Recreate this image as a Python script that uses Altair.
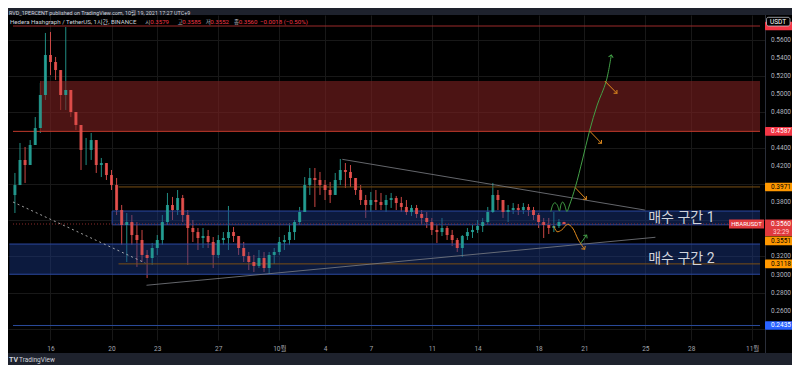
import math
import altair as alt
import pandas as pd

# ---------------- values ----------------
candle_start_day = 13.667          # centre of first 8-hour candle (day of September)
candle_step_days = 1 / 3
first_open = 0.3881
highs = [0.4126, 0.4458, 0.4414, 0.4491, 0.4746, 0.5123, 0.5678, 0.5689, 0.5412, 0.5190,
         0.5744, 0.5012, 0.4791, 0.4635, 0.4514, 0.4569, 0.4347, 0.4292, 0.4236, 0.4159,
         0.4070, 0.3771, 0.3682, 0.3660, 0.3582, 0.3494, 0.3272, 0.3350, 0.3438, 0.3660,
         0.3904, 0.3860, 0.3937, 0.3882, 0.3715, 0.3604, 0.3516, 0.3516, 0.3494, 0.3416,
         0.3438, 0.3471, 0.3760, 0.3527, 0.3427, 0.3361, 0.3250, 0.3217, 0.3272, 0.3250,
         0.3250, 0.3294, 0.3416, 0.3438, 0.3571, 0.3604, 0.3749, 0.4081, 0.4181, 0.4181,
         0.4137, 0.4048, 0.4026, 0.4126, 0.4281, 0.4236, 0.4214, 0.4070, 0.3992, 0.3882,
         0.3915, 0.3937, 0.3904, 0.3882, 0.3904, 0.3871, 0.3860, 0.3826, 0.3771, 0.3771,
         0.3715, 0.3693, 0.3627, 0.3549, 0.3627, 0.3538, 0.3494, 0.3405, 0.3438, 0.3516,
         0.3549, 0.3604, 0.3627, 0.3749, 0.4015, 0.3937, 0.3826, 0.3771, 0.3793, 0.3782,
         0.3793, 0.3782, 0.3749, 0.3682, 0.3627, 0.3627, 0.3693, 0.3616, 0.3585]
lows = [0.3682, 0.3992, 0.4015, 0.4214, 0.4436, 0.4569, 0.4935, 0.5212, 0.5157, 0.4824,
        0.4824, 0.4746, 0.4602, 0.4159, 0.4214, 0.4270, 0.4126, 0.4081, 0.4048, 0.3937,
        0.3660, 0.3327, 0.3139, 0.3327, 0.3084, 0.3139, 0.2961, 0.3106, 0.3217, 0.3327,
        0.3549, 0.3604, 0.3660, 0.3582, 0.3106, 0.3361, 0.3272, 0.3294, 0.3294, 0.3072,
        0.3183, 0.3327, 0.3272, 0.3361, 0.3217, 0.3139, 0.3050, 0.3028, 0.3072, 0.3028,
        0.3006, 0.3117, 0.3217, 0.3272, 0.3327, 0.3383, 0.3549, 0.3693, 0.3882, 0.3749,
        0.3882, 0.3826, 0.3793, 0.3882, 0.3992, 0.3959, 0.3970, 0.3882, 0.3771, 0.3627,
        0.3693, 0.3715, 0.3715, 0.3693, 0.3738, 0.3715, 0.3693, 0.3660, 0.3649, 0.3627,
        0.3549, 0.3516, 0.3438, 0.3350, 0.3427, 0.3383, 0.3316, 0.3250, 0.3194, 0.3383,
        0.3405, 0.3460, 0.3471, 0.3560, 0.3682, 0.3715, 0.3627, 0.3582, 0.3671, 0.3660,
        0.3671, 0.3649, 0.3604, 0.3516, 0.3405, 0.3449, 0.3471, 0.3516, 0.3552]
closes = [0.3992, 0.4270, 0.4214, 0.4436, 0.4624, 0.4990, 0.5434, 0.5356, 0.5267, 0.4990,
          0.5046, 0.4802, 0.4658, 0.4381, 0.4381, 0.4491, 0.4214, 0.4236, 0.4103, 0.3992,
          0.3715, 0.3549, 0.3582, 0.3438, 0.3383, 0.3217, 0.3183, 0.3294, 0.3383, 0.3582,
          0.3771, 0.3715, 0.3848, 0.3660, 0.3516, 0.3471, 0.3405, 0.3427, 0.3361, 0.3217,
          0.3383, 0.3405, 0.3471, 0.3427, 0.3294, 0.3205, 0.3139, 0.3095, 0.3183, 0.3072,
          0.3217, 0.3250, 0.3361, 0.3383, 0.3471, 0.3582, 0.3693, 0.3992, 0.4070, 0.4048,
          0.3992, 0.3937, 0.3882, 0.4048, 0.4159, 0.4137, 0.4070, 0.3937, 0.3826, 0.3771,
          0.3826, 0.3804, 0.3771, 0.3826, 0.3848, 0.3793, 0.3749, 0.3693, 0.3738, 0.3671,
          0.3627, 0.3582, 0.3494, 0.3471, 0.3516, 0.3438, 0.3383, 0.3294, 0.3427, 0.3471,
          0.3494, 0.3538, 0.3582, 0.3693, 0.3882, 0.3826, 0.3693, 0.3715, 0.3738, 0.3715,
          0.3749, 0.3715, 0.3660, 0.3582, 0.3549, 0.3516, 0.3538, 0.3582, 0.3560]

day_ticks = [16, 20, 23, 27, 31, 34, 37, 41, 44, 48, 51, 55, 58, 62]
day_labels = ["16", "20", "23", "27", "10월", "4", "7", "11", "14", "18", "21", "25", "28", "11월"]
price_ticks = [0.24, 0.26, 0.28, 0.30, 0.32, 0.34, 0.36, 0.38, 0.40, 0.42, 0.44, 0.46,
               0.48, 0.50, 0.52, 0.54, 0.56]

# zones: supply (red), buy zone 1, buy zone 2
zone_start = [15.35, 20.04, 13.3]
zone_top = [0.5145, 0.3704, 0.3338]
zone_bottom = [0.4587, 0.3551, 0.3003]
zone_names = ["", "매수 구간 1", "매수 구간 2"]

level_prices = [0.5755, 0.4587, 0.3971, 0.3118, 0.2435]
level_start = [13.542, 13.542, 20.46, 20.46, 13.542]
current_price = 0.3560

trend_t1 = [35.131, 22.295, 13.542]
trend_p1 = [0.4277, 0.2881, 0.3804]
trend_t2 = [54.966, 55.659, 22.211]
trend_p2 = [0.3715, 0.3413, 0.3128]

green_t = [48.801, 48.931, 49.060, 49.222, 49.364, 49.480, 49.577, 49.707, 49.856,
           50.030, 50.418, 50.871, 51.344, 51.842, 52.424, 52.767]
green_p = [0.3697, 0.3771, 0.3796, 0.3771, 0.3704, 0.3782, 0.3804, 0.3771, 0.3699,
           0.3771, 0.3974, 0.4270, 0.4595, 0.4879, 0.5138, 0.5434]
orange_t = [48.995, 49.209, 49.513, 49.901, 50.224, 50.612, 51.020]
orange_p = [0.3538, 0.3475, 0.3494, 0.3557, 0.3516, 0.3383, 0.3280]

short_t1 = [52.340, 51.344, 50.399, 50.761]
short_p1 = [0.5145, 0.4591, 0.3963, 0.3346]
short_t2 = [53.136, 52.120, 51.130, 51.150]
short_p2 = [0.5009, 0.4455, 0.3834, 0.3438]
short_kind = ["orange", "orange", "orange", "green"]

box_prices = [0.5755, 0.4587, 0.3971, 0.3551, 0.3118, 0.2435]
box_shift_px = [0, 0, 0, 16, 0, 0]
box_kind = ["red", "red", "orange", "orange", "orange", "blue"]

# ---------------- layout / style ----------------
W, H = 757, 325
T_MIN, T_MAX = 13.542, 62.515
P_MIN, P_MAX = 0.22742, 0.58771
KX = W / (T_MAX - T_MIN)
KY = H / (P_MAX - P_MIN)
UP, DOWN = "#26a69a", "#ef5350"
RED, ORANGE, BLUE, GREEN = "#f23645", "#ff9800", "#2962ff", "#43a047"
ARROW_OR = "#e08a1e"
FONT = "Roboto, Noto Sans CJK KR, sans-serif"
TXT = "#d1d4dc"
FRAME = "#1e222d"

xs = alt.Scale(domain=[T_MIN, T_MAX], nice=False, zero=False)
ys = alt.Scale(domain=[P_MIN, P_MAX], nice=False, zero=False)


def X(f):
    return alt.X(f, type="quantitative", scale=xs)


def Y(f):
    return alt.Y(f, type="quantitative", scale=ys)


n = len(closes)
opens = [first_open] + closes[:-1]
cdf = pd.DataFrame({
    "t": [candle_start_day + i * candle_step_days for i in range(n)],
    "open": opens, "close": closes,
})
cdf["high"] = [max(h, o, c) for h, o, c in zip(highs, opens, closes)]
cdf["low"] = [min(l, o, c) for l, o, c in zip(lows, opens, closes)]
cdf["dir"] = ["up" if c >= o else "down" for o, c in zip(opens, closes)]

# x labels from the label list
x_expr = " : ".join(f"datum.value == {d} ? '{l}'" for d, l in zip(day_ticks, day_labels)) + " : ''"

x_axis = alt.Axis(values=day_ticks, labelExpr=x_expr, grid=True, gridColor="#181818",
                  ticks=False, domain=False, labelColor="#a3a6af", labelFont=FONT,
                  labelFontSize=6.5, labelPadding=5, title=None, labelOverlap=False)
y_axis = alt.Axis(orient="right", values=price_ticks, grid=True, gridColor="#181818",
                  ticks=False, domain=False, labels=False, title=None)
col = alt.Color("dir:N", scale=alt.Scale(domain=["up", "down"], range=[UP, DOWN]), legend=None)

wick = alt.Chart(cdf).mark_rule(strokeWidth=1, opacity=0.85).encode(
    x=alt.X("t:Q", scale=xs, axis=x_axis),
    y=alt.Y("low:Q", scale=ys, axis=y_axis),
    y2="high:Q", color=col)
body = alt.Chart(cdf).mark_bar(size=3, opacity=0.85).encode(
    x=X("t"), y=Y("open"), y2="close", color=col)

# price labels on the right scale (those hidden behind coloured tags are left out)
box_ctr = [p - s / KY for p, s in zip(box_prices, box_shift_px)] + [current_price]
shown = [v for v in price_ticks if not any(abs(v - b) * KY < 5.5 for b in box_ctr)]
pl_df = pd.DataFrame({"p": shown, "txt": [f"{v:.4f}" for v in shown]})
price_labels = alt.Chart(pl_df).mark_text(font=FONT, fontSize=6.5, color="#b2b5be", align="left",
                                          baseline="middle").encode(
    x=alt.value(763), y=Y("p"), text="txt:N")

zdf = pd.DataFrame({"t1": zone_start, "t2": [T_MAX] * 3, "top": zone_top, "bot": zone_bottom,
                    "name": zone_names})
red_zone = alt.Chart(zdf.iloc[[0]]).mark_rect(fill="#7a2020", fillOpacity=0.62).encode(
    x=X("t1"), x2="t2", y=Y("bot"), y2="top")
blue_zone = alt.Chart(zdf.iloc[[1, 2]]).mark_rect(fill="#1a3a8a", fillOpacity=0.45).encode(
    x=X("t1"), x2="t2", y=Y("bot"), y2="top")
edf = pd.DataFrame({
    "t1": [zone_start[1], zone_start[1], zone_start[2], zone_start[2]],
    "t2": [T_MAX] * 4,
    "p": [zone_top[1], zone_bottom[1], zone_top[2], zone_bottom[2]],
})
blue_edges = alt.Chart(edf).mark_rule(color="#2b48a0", strokeWidth=1).encode(
    x=X("t1"), x2="t2", y=Y("p"))
ldf_edges = pd.DataFrame({"t": [zone_start[0], zone_start[1]], "p1": [zone_bottom[0], zone_bottom[1]],
                          "p2": [zone_top[0], zone_top[1]], "c": ["#6b1f1c", "#2b48a0"]})
left_edges = alt.Chart(ldf_edges).mark_rule(strokeWidth=1).encode(
    x=X("t"), y=Y("p1"), y2="p2", color=alt.Color("c:N", scale=None))
zdf["mid"] = [(a + b) / 2 for a, b in zip(zone_top, zone_bottom)]
zdf["tx"] = 57.36
zone_text = alt.Chart(zdf.iloc[[1, 2]]).mark_text(font=FONT, fontSize=14, color=TXT,
                                                  baseline="middle").encode(
    x=X("tx"), y=Y("mid"), text="name:N")

lvl_colors = ["#9c2a2a", "#c0392b", "#7a4f14", "#7a4f14", "#2a4a9a"]
ldf = pd.DataFrame({"t1": level_start, "t2": [T_MAX] * 5, "p": level_prices, "c": lvl_colors})
levels = alt.Chart(ldf).mark_rule(strokeWidth=1).encode(
    x=X("t1"), x2="t2", y=Y("p"), color=alt.Color("c:N", scale=None))
cur_line = alt.Chart(pd.DataFrame({"t1": [T_MIN], "t2": [T_MAX], "p": [current_price]})).mark_rule(
    strokeWidth=1, color="#8a2a2a", strokeDash=[1, 2]).encode(x=X("t1"), x2="t2", y=Y("p"))

tdf = pd.DataFrame({"t1": trend_t1, "p1": trend_p1, "t2": trend_t2, "p2": trend_p2})
trends = alt.Chart(tdf.iloc[[0, 1]]).mark_rule(strokeWidth=1, color="#7d7f86", opacity=0.8).encode(
    x=X("t1"), y=Y("p1"), x2="t2", y2="p2")
dashed = alt.Chart(tdf.iloc[[2]]).mark_rule(strokeWidth=1, color="#c8c8c8", strokeDash=[2, 3],
                                            opacity=0.8).encode(
    x=X("t1"), y=Y("p1"), x2="t2", y2="p2")

gdf = pd.DataFrame({"t": green_t, "p": green_p, "o": range(len(green_t))})
green_path = alt.Chart(gdf).mark_line(color=GREEN, strokeWidth=1, interpolate="catmull-rom").encode(
    x=X("t"), y=Y("p"), order="o:Q")
odf = pd.DataFrame({"t": orange_t, "p": orange_p, "o": range(len(orange_t))})
orange_path = alt.Chart(odf).mark_line(color=ARROW_OR, strokeWidth=1, interpolate="catmull-rom").encode(
    x=X("t"), y=Y("p"), order="o:Q")

sdf = pd.DataFrame({"t1": short_t1, "p1": short_p1, "t2": short_t2, "p2": short_p2,
                    "c": [ARROW_OR if k == "orange" else GREEN for k in short_kind]})
shorts = alt.Chart(sdf).mark_rule(strokeWidth=1).encode(
    x=X("t1"), y=Y("p1"), x2="t2", y2="p2", color=alt.Color("c:N", scale=None))


def ang(t1, p1, t2, p2):
    a = math.degrees(math.atan2((t2 - t1) * KX, (p2 - p1) * KY))
    return a % 360


heads = [(green_t[-1], green_p[-1], ang(green_t[-2], green_p[-2], green_t[-1], green_p[-1]), GREEN),
         (orange_t[-1], orange_p[-1], ang(orange_t[-2], orange_p[-2], orange_t[-1], orange_p[-1]), ARROW_OR)]
for a, b, c, d, col_ in zip(short_t1, short_p1, short_t2, short_p2, sdf["c"]):
    heads.append((c, d, ang(a, b, c, d), col_))
hdf = pd.DataFrame(heads, columns=["t", "p", "ang", "c"])
arrowheads = alt.Chart(hdf).mark_point(shape="M-0.75,0.75L0,0L0.75,0.75", filled=False, size=40,
                                       strokeWidth=1, opacity=1).encode(
    x=X("t"), y=Y("p"), angle=alt.Angle("ang:Q", scale=None), color=alt.Color("c:N", scale=None))

# frame strips outside the pane
one = pd.DataFrame({"a": [0]})
top_strip = alt.Chart(one).mark_rect(color=FRAME).encode(
    x=alt.value(-2), x2=alt.value(790), y=alt.value(-8), y2=alt.value(0))
bot_strip = alt.Chart(one).mark_rect(color=FRAME).encode(
    x=alt.value(-2), x2=alt.value(790), y=alt.value(338), y2=alt.value(360))
sep = alt.Chart(one).mark_rule(color="#2a2e39", strokeWidth=1).encode(
    x=alt.value(757.5), y=alt.value(0), y2=alt.value(338))

# price-axis tags
hh = 4.3 / KY
fills = {"red": RED, "orange": ORANGE, "blue": BLUE}
tcols = {"red": "#ffffff", "orange": "#000000", "blue": "#ffffff"}
bdf = pd.DataFrame({
    "price": box_prices,
    "txt": [f"{p:.4f}" for p in box_prices],
    "fill": [fills[k] for k in box_kind],
    "tc": [tcols[k] for k in box_kind],
})
bdf["ctr"] = [p - s / KY for p, s in zip(box_prices, box_shift_px)]
bdf["top"] = bdf["ctr"] + hh
bdf["bot"] = bdf["ctr"] - hh
boxes = alt.Chart(bdf).mark_rect(cornerRadius=1).encode(
    x=alt.value(757), x2=alt.value(785), y=Y("top"), y2="bot", color=alt.Color("fill:N", scale=None))
box_txt = alt.Chart(bdf.iloc[1:]).mark_text(font=FONT, fontSize=6.5, align="left", baseline="middle").encode(
    x=alt.value(763), y=Y("ctr"), text="txt:N", color=alt.Color("tc:N", scale=None))

cdf2 = pd.DataFrame({"top": [current_price + 4.5 / KY], "bot": [current_price - 4.5 / KY],
                     "bot2": [current_price - 12 / KY], "p": [current_price]})
cur_tag = alt.Chart(cdf2).mark_rect(color="#e03a3e").encode(
    x=alt.value(721), x2=alt.value(756), y=Y("top"), y2="bot")
cur_tag_txt = alt.Chart(cdf2).mark_text(font=FONT, fontSize=6, color="#ffffff", baseline="middle").encode(
    x=alt.value(738.5), y=Y("p"), text=alt.value("HBARUSDT"))
cur_box = alt.Chart(cdf2).mark_rect(color="#e03a3e").encode(
    x=alt.value(757), x2=alt.value(785), y=Y("top"), y2="bot2")
cur_box_txt = alt.Chart(cdf2).mark_text(font=FONT, fontSize=6.5, color="#ffffff", align="left",
                                        baseline="middle").encode(
    x=alt.value(763), y=Y("p"), text=alt.value(f"{current_price:.4f}"))
cur_box_txt2 = alt.Chart(cdf2).mark_text(font=FONT, fontSize=6.5, color="#ffd0d0", align="left",
                                         baseline="middle", dy=8).encode(
    x=alt.value(765), y=Y("p"), text=alt.value("32:29"))

usdt_box = alt.Chart(one).mark_rect(color="#000000", stroke="#d1d4dc", strokeWidth=0.7,
                                    cornerRadius=2).encode(
    x=alt.value(758.5), x2=alt.value(782), y=alt.value(2.3), y2=alt.value(11))
usdt_txt = alt.Chart(one).mark_text(font=FONT, fontSize=6.5, color="#ffffff", baseline="middle").encode(
    x=alt.value(770), y=alt.value(6.8), text=alt.value("USDT"))


def ptext(s, x, y, color, size=6.5, weight="normal"):
    return alt.Chart(one).mark_text(font=FONT, fontSize=size, color=color, align="left",
                                    baseline="middle", fontWeight=weight).encode(
        x=alt.value(x), y=alt.value(y), text=alt.value(s))


texts = [
    ptext("RVD_1PERCENT published on TradingView.com, 10월 19, 2021 17:27 UTC+9", 1, -1.6, TXT, 5.4),
    ptext("Hedera Hashgraph / TetherUS, 1시간, BINANCE", 2, 7, TXT, 6.1),
    ptext("−0.0018 (−0.50%)", 252, 7, RED, 6.1),
    ptext("TV", 1, 345, TXT, 7, "bold"),
    ptext("TradingView", 11, 345, TXT, 6.5),
]
for lab, val, lx, vx in zip(["시", "고", "저", "종"], ["0.3579", "0.3585", "0.3552", "0.3560"],
                            [137.3, 169.7, 197.7, 226.0], [142.3, 174.3, 202.3, 230.7]):
    texts.append(ptext(lab, lx, 7, "#b2b5be", 5.5))
    texts.append(ptext(val, vx, 7, RED, 6.1))

chart = alt.layer(
    wick, red_zone, blue_zone, blue_edges, left_edges, levels, cur_line, body,
    trends, dashed, green_path, orange_path, shorts, arrowheads, zone_text,
    top_strip, bot_strip, sep, price_labels, boxes, box_txt, cur_tag, cur_tag_txt, cur_box,
    cur_box_txt, cur_box_txt2, usdt_box, usdt_txt, *texts
).properties(
    width=W, height=H,
    padding={"left": 0, "top": 7, "right": 27, "bottom": 25},
    autosize=alt.AutoSizeParams(type="none"),
    background="#000000",
).configure_view(strokeWidth=0)

chart.save("out.html", embed_options={"renderer": "svg", "actions": False})
